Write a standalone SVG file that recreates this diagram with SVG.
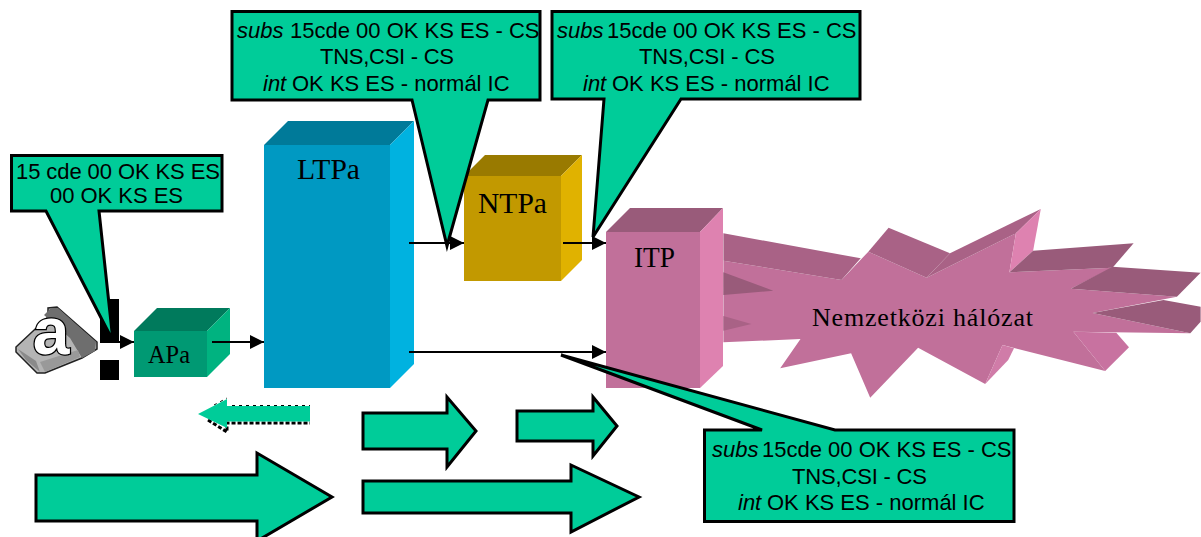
<svg xmlns="http://www.w3.org/2000/svg" width="1201" height="537" viewBox="0 0 1201 537">
<style>
.c{fill:#00CC99;stroke:#000;stroke-width:3;stroke-linejoin:miter}
.a{fill:#00CC99;stroke:#000;stroke-width:3;stroke-linejoin:miter}
.t{font-family:"Liberation Sans",Arial,sans-serif;font-size:22px;fill:#000}
.i{font-style:italic}
.s{font-family:"Liberation Serif","Times New Roman",serif;font-size:30px;fill:#000}
.l{stroke:#000;stroke-width:2;fill:none;marker-end:url(#ah)}
.dk{fill:#995B7A}.md{fill:#A96286}.fr{fill:#C1709A}.lt{fill:#DE82B0}
</style>
<defs>
<marker id="ah" markerUnits="userSpaceOnUse" markerWidth="14" markerHeight="14" refX="14" refY="7" orient="auto"><path d="M0 0L14 7L0 14Z" fill="#000"/></marker>
</defs>
<rect width="1201" height="537" fill="#fff"/>
<g id="phone">
<path d="M16 347L48 317L48 308L57 307L97 342L97 349L82 358L45 373L37 373L16 352Z" fill="#B4B4B4" stroke="#222" stroke-width="1.5"/>
<path d="M44 315L51 308L58 308L96 342L95 351L82 358L70 338Z" fill="#6E6E6E"/>
<path d="M18 349L36 361L40 372L26 360Z" fill="#8A8A8A"/>
<path d="M40 362L78 350L80 357L45 372Z" fill="#999"/>
<text x="51" y="354" text-anchor="middle" font-family="Liberation Sans,Arial,sans-serif" font-weight="700" font-size="66" fill="#fff" stroke="#000" stroke-width="2.500" paint-order="stroke">a</text>
</g>
<g id="barrier" fill="#000">
<rect x="100" y="299" width="19" height="42"/>
<rect x="100" y="360" width="19" height="20"/>
</g>
<g id="APa">
<path d="M134 331L157 308H230L207 331Z" fill="#007A5C"/>
<path d="M207 331L230 308V354L207 377Z" fill="#00B380"/>
<rect x="134" y="331" width="73" height="46" fill="#009973"/>
<text class="s" x="148" y="363" style="font-size:26px" textLength="42" lengthAdjust="spacingAndGlyphs">APa</text>
</g>
<g id="LTPa">
<path d="M264 145L288 121H414L390 145Z" fill="#007A99"/>
<path d="M390 145L414 121V364L390 388Z" fill="#00B2E0"/>
<rect x="264" y="145" width="126" height="243" fill="#0099C2"/>
<text class="s" x="297" y="179" textLength="63" lengthAdjust="spacingAndGlyphs">LTPa</text>
</g>
<g id="NTPa">
<path d="M464 176L485 155H582L561 176Z" fill="#997A00"/>
<path d="M561 176L582 155V260L561 281Z" fill="#E0B200"/>
<rect x="464" y="176" width="97" height="105" fill="#C29900"/>
<text class="s" x="478" y="213" textLength="69" lengthAdjust="spacingAndGlyphs">NTPa</text>
</g>
<g id="network">
<path class="fr" d="M723.4 260.7L841.5 280L868.3 251.7L926.6 277.7L1015.9 233.3L1009.4 272.3L1112.5 267.7L1070.7 288.7L1176.9 296.7L1092.5 313L1190.3 333.3L1073.4 331.7L1105.2 371L1002.5 345L985.2 384L918.1 347.7L870.2 397.7L851.1 353.3L780.2 368.3L800.5 339L723.4 342.3Z"/>
<path class="md" d="M723.4 233.3L860.7 258.3L841.5 280L723.4 260.7Z"/>
<path class="md" d="M868.3 251.7L888.6 227.7L950 253.3L926.6 277.7Z"/>
<path class="md" d="M950 253.3L1040.8 209L1015.9 233.3L926.6 277.7Z"/>
<path class="lt" d="M1040.8 209L1033.1 250.7L1009.4 272.3L1015.9 233.3Z"/>
<path class="dk" d="M1033.1 250.7L1133.6 243.3L1112.5 267.7L1009.4 272.3Z"/>
<path class="dk" d="M1112.5 266.7L1200.6 272.7L1176.9 296.7L1070.7 288.7Z"/>
<path class="dk" d="M1092.5 313L1163.5 300L1200.6 306.7V321.7L1190.3 333.3Z"/>
<path fill="#C872A0" d="M1073.4 331.7L1116.3 332.7L1129 347.3L1105.2 371Z"/>
<path fill="#D07CA8" d="M1002.5 345L1014 348.3L1008.2 360L985.2 384Z"/>
<path class="dk" d="M723.4 272.3L773.3 290.7L723.4 295Z"/>
<path class="md" d="M723.4 316L751.4 324L723.4 330.7Z"/>
<text class="s" x="812" y="326" style="font-size:26px" textLength="221">Nemzetközi hálózat</text>
</g>
<g id="ITP">
<path d="M606 232L630 208H723L700 232Z" fill="#995B7A"/>
<path d="M700 232L723 208V366L700 388Z" fill="#DE82B0"/>
<rect x="606" y="232" width="94" height="156" fill="#C1709A"/>
<text class="s" x="634" y="267" textLength="41" lengthAdjust="spacingAndGlyphs">ITP</text>
</g>
<g id="connectors">
<line class="l" x1="100" y1="342" x2="134" y2="342"/>
<line class="l" x1="212" y1="342" x2="264" y2="342"/>
<line class="l" x1="409" y1="243" x2="464" y2="243"/>
<line class="l" x1="563" y1="243" x2="606" y2="243"/>
<line class="l" x1="409" y1="352" x2="606" y2="352"/>
</g>
<g id="arrows">
<path d="M208 420L227 432V423H310" fill="none" stroke="#000" stroke-width="3" stroke-dasharray="4 2"/>
<path d="M214 405L227 398M232 405.500H310" fill="none" stroke="#000" stroke-width="1" stroke-dasharray="3 4"/>
<path d="M198 414L227 399V406H310V421.500H227V428Z" fill="#00CC99"/>
<path class="a" d="M363 413H447V397L476 431L447 467V449H363Z"/>
<path class="a" d="M517 411H593V397L617 426L593 456V441H517Z"/>
<path class="a" d="M36 475H257V453L332 497L257 541V521H36Z"/>
<path class="a" d="M363 481H571V465L639 497L571 532V513H363Z"/>
</g>
<g id="callout-1">
<path class="c" d="M11.500 155.500H222V211H99L113 341L46 211H11.500Z"/>
<text class="t" x="16" y="179" textLength="204">15 cde 00 OK KS ES</text>
<text class="t" x="50" y="203" textLength="133">00 OK KS ES</text>
</g>
<g id="callout-2">
<path class="c" d="M232 11.500H540V100H488L447 246L412 100H232Z"/>
<text class="t" x="237" y="38"><tspan class="i">subs</tspan><tspan x="290">15cde 00 OK KS ES - CS</tspan></text>
<text class="t" x="320" y="64" textLength="134">TNS,CSI - CS</text>
<text class="t" x="263" y="91"><tspan class="i">int</tspan><tspan x="292">OK KS ES - normál IC</tspan></text>
</g>
<g id="callout-3">
<path class="c" d="M552 11.500H860V99H681L593 237L604 99H552Z"/>
<text class="t" x="557" y="38"><tspan class="i">subs</tspan><tspan x="607">15cde 00 OK KS ES - CS</tspan></text>
<text class="t" x="639" y="64" textLength="136">TNS,CSI - CS</text>
<text class="t" x="583" y="91"><tspan class="i">int</tspan><tspan x="612">OK KS ES - normál IC</tspan></text>
</g>
<g id="callout-4">
<path class="c" d="M704.500 430H762L561 355L835 430H1014V521.500H704.500Z"/>
<text class="t" x="712" y="457"><tspan class="i">subs</tspan><tspan x="762">15cde 00 OK KS ES - CS</tspan></text>
<text class="t" x="792" y="484" textLength="135">TNS,CSI - CS</text>
<text class="t" x="738" y="510"><tspan class="i">int</tspan><tspan x="767">OK KS ES - normál IC</tspan></text>
</g>
</svg>
